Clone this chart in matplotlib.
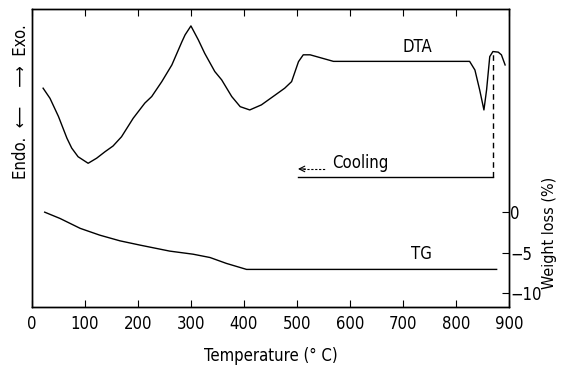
import matplotlib
matplotlib.use("Agg")
import matplotlib.pyplot as plt
from matplotlib import font_manager

# prefer a narrow face like the scanned original, if one is around
narrow = None
for f in font_manager.fontManager.ttflist:
    if f.name in ('Liberation Sans Narrow', 'DejaVu Sans Condensed'):
        narrow = f.name
        break
    if f.name == 'DejaVu Sans' and f.stretch in ('condensed', 'semi-condensed'):
        narrow = 'DejaVu Sans'
        plt.rcParams['font.stretch'] = 'condensed'

fam = [narrow, 'DejaVu Sans'] if narrow else ['DejaVu Sans']
plt.rcParams['font.family'] = fam
plt.rcParams['axes.unicode_minus'] = True
fs = 12 if narrow else 11

# DTA curve (heating), arbitrary units
dta_T = [21, 34, 50, 66, 75, 87, 106, 122, 138, 153, 169, 191, 213, 226, 245,
         264, 283, 289, 300, 314, 326, 345, 358, 377, 393, 411, 433, 459, 477,
         490, 503, 512, 525, 547, 569, 700, 826, 836, 845, 853, 858, 864, 870,
         880, 886, 893]
dta_v = [73.4, 70.0, 63.9, 56.6, 53.3, 50.4, 48.2, 49.9, 52.1, 54.0, 57.1,
         63.3, 68.4, 70.6, 75.6, 81.2, 89.0, 91.3, 94.3, 89.6, 85.1, 79.0, 76.2,
         70.6, 67.2, 66.1, 67.8, 71.1, 73.4, 75.6, 82.3, 84.6, 84.6, 83.5, 82.4,
         82.4, 82.4, 79.5, 72.8, 66.1, 72.8, 84.0, 85.7, 85.5, 84.6, 81.2]

# cooling baseline
cool_T = [502, 870]
cool_v = [43.6, 43.6]
drop_T = [870, 870]
drop_v = [43.6, 85.7]

# TG curve, weight loss (%)
tg_T = [24, 53, 91, 128, 166, 204, 260, 304, 336, 367, 405, 877]
tg_w = [0.0, -0.78, -2.0, -2.84, -3.54, -4.07, -4.81, -5.19, -5.6, -6.33, -7.07, -7.07]

x_ticks = [0, 100, 200, 300, 400, 500, 600, 700, 800, 900]
w_ticks = [0, -5, -10]

fig = plt.figure(figsize=(5.61, 3.72), dpi=100)
ax = fig.add_axes([0.057, 0.175, 0.85, 0.801])
ax2 = ax.twinx()

ax.plot(dta_T, dta_v, color='black', lw=1.0)
ax.plot(cool_T, cool_v, color='black', lw=1.0)
ax.plot(drop_T, drop_v, color='black', lw=1.0, ls=(0, (4, 3)))
ax2.plot(tg_T, tg_w, color='black', lw=1.0)

ax.set_xlim(0, 900)
ax.set_ylim(0, 100)
ax2.set_ylim(-11.7, 25.1)

ax.set_xticks(x_ticks)
ax.tick_params(axis='x', direction='in', top=True, length=5, labelsize=fs, pad=6)
ax.tick_params(axis='y', left=False, right=False, labelleft=False)
ax2.set_yticks(w_ticks)
ax2.tick_params(axis='y', direction='in', length=5, labelsize=fs, pad=1)

for a in (ax, ax2):
    for s in a.spines.values():
        s.set_linewidth(1.0)

ax.set_xlabel('Temperature (° C)', fontsize=fs, labelpad=10)
ax2.set_ylabel('Weight loss (%)', fontsize=fs - 0.5, labelpad=2)
ax2.yaxis.set_label_coords(1.069, 0.25)
ax.text(-0.024, 0.69, 'Endo.  \u27f5    \u27f6  Exo.', transform=ax.transAxes,
        rotation=90, ha='center', va='center', fontsize=fs, family=fam)

ax.text(728, 87.1, 'DTA', ha='center', va='center', fontsize=fs)
ax2.text(736, -5.2, 'TG', ha='center', va='center', fontsize=fs)
ax.text(566, 48.3, 'Cooling', ha='left', va='center', fontsize=fs)
ax.plot([512, 553], [46.3, 46.3], color='black', lw=0.8, ls=(0, (2, 1.5)))
ax.annotate('', xy=(502, 46.3), xytext=(516, 46.3),
            arrowprops=dict(arrowstyle='->', color='black', lw=0.8,
                            shrinkA=0, shrinkB=0))

fig.savefig('out.png', dpi=100)
